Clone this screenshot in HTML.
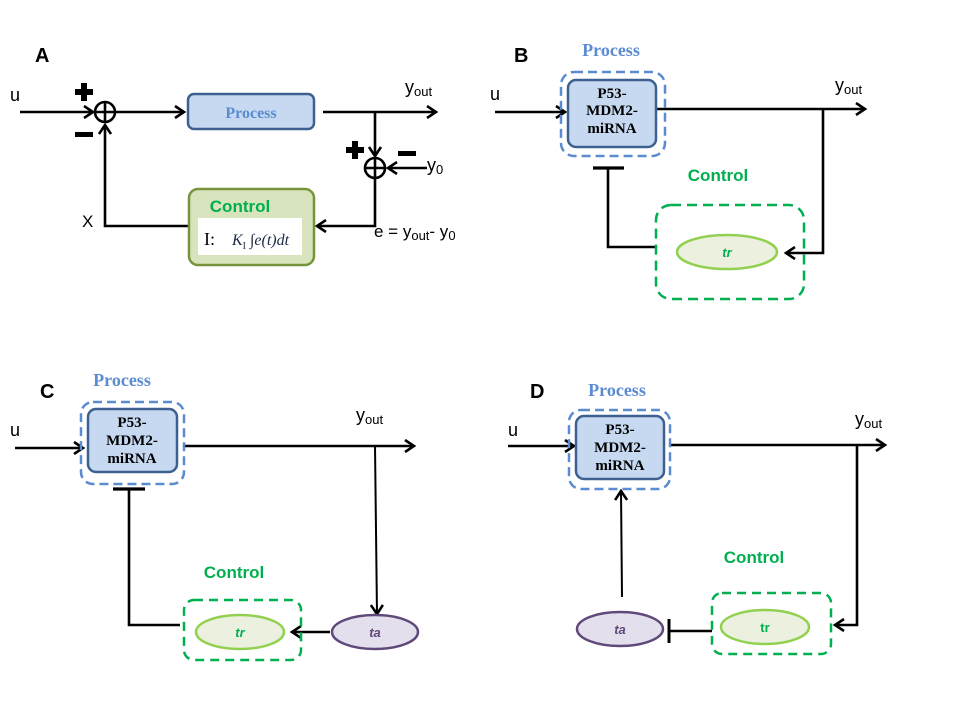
<!DOCTYPE html>
<html><head><meta charset="utf-8"><style>
html,body{margin:0;padding:0;background:#fff;}
svg{display:block;}
.s{font-family:"Liberation Sans",sans-serif;}
.sr{font-family:"Liberation Serif",serif;}
</style></head><body>
<svg width="960" height="720" viewBox="0 0 960 720" xmlns="http://www.w3.org/2000/svg">
<defs>
<marker id="a" markerWidth="14" markerHeight="14" refX="10" refY="7" orient="auto" markerUnits="userSpaceOnUse">
<path d="M1,1 L10,7 L1,13" fill="none" stroke="#000" stroke-width="2.6"/></marker>
</defs>
<g stroke="#000" stroke-width="2.6" fill="none">
<!-- Panel A -->
<line x1="20" y1="112" x2="93" y2="112" marker-end="url(#a)"/>
<circle cx="105" cy="112" r="10"/><line x1="95" y1="112" x2="115" y2="112"/><line x1="105" y1="102" x2="105" y2="122"/>
<line x1="115" y1="112" x2="184" y2="112" marker-end="url(#a)"/>
<line x1="323" y1="112" x2="436" y2="112" marker-end="url(#a)"/>
<line x1="375" y1="112" x2="375" y2="156" marker-end="url(#a)"/>
<circle cx="375" cy="168" r="10"/><line x1="365" y1="168" x2="385" y2="168"/><line x1="375" y1="158" x2="375" y2="178"/>
<line x1="427" y1="168" x2="388" y2="168" marker-end="url(#a)"/>
<polyline points="375,178 375,226 317,226" marker-end="url(#a)"/>
<polyline points="188,226 105,226 105,125" marker-end="url(#a)"/>
<!-- Panel B -->
<line x1="495" y1="112" x2="565" y2="112" marker-end="url(#a)"/>
<line x1="656" y1="109" x2="865" y2="109" marker-end="url(#a)"/>
<polyline points="823,109 823,253 786,253" marker-end="url(#a)"/>
<line x1="593" y1="168" x2="624" y2="168" stroke-width="3.2"/>
<polyline points="608,168 608,247 655,247"/>
<!-- Panel C -->
<line x1="15" y1="448" x2="83" y2="448" marker-end="url(#a)"/>
<line x1="184" y1="446" x2="414" y2="446" marker-end="url(#a)"/>
<line x1="375" y1="446" x2="377" y2="614" marker-end="url(#a)" stroke-width="2"/>
<line x1="330" y1="632" x2="292" y2="632" marker-end="url(#a)"/>
<line x1="113" y1="489" x2="145" y2="489" stroke-width="3.2"/>
<polyline points="129,489 129,625 180,625"/>
<!-- Panel D -->
<line x1="508" y1="446" x2="574" y2="446" marker-end="url(#a)"/>
<line x1="670" y1="445" x2="885" y2="445" marker-end="url(#a)"/>
<polyline points="857,445 857,625 835,625" marker-end="url(#a)"/>
<line x1="622" y1="597" x2="621" y2="491" marker-end="url(#a)" stroke-width="2"/>
<line x1="712" y1="631" x2="670" y2="631"/>
<line x1="669" y1="619" x2="669" y2="643" stroke-width="3"/>
</g>
<g fill="#000">
<rect x="75" y="89" width="18" height="6"/><rect x="81" y="83" width="6" height="18"/>
<rect x="75" y="132" width="18" height="5"/>
<rect x="346" y="147" width="18" height="6"/><rect x="352" y="141" width="6" height="18"/>
<rect x="398" y="151" width="18" height="5"/>
</g>
<rect x="188" y="94" width="126" height="35" rx="6" fill="#c6d9f1" stroke="#3c6090" stroke-width="2.5"/>
<text x="251" y="118" class="sr" font-size="16" font-weight="bold" fill="#5b8bd0" text-anchor="middle">Process</text>
<rect x="189" y="189" width="125" height="76" rx="9" fill="#d7e4bd" stroke="#77933c" stroke-width="2.5"/>
<text x="240" y="212" class="s" font-size="17" font-weight="bold" fill="#00b050" text-anchor="middle">Control</text>
<rect x="198" y="218" width="104" height="37" fill="#fff"/>
<text x="204" y="245" class="sr" font-size="18" fill="#000">I:</text>
<text x="232" y="245" class="sr" font-size="16" font-style="italic" fill="#1f2a44">K<tspan font-size="10" font-style="normal" dy="4">I</tspan><tspan dy="-4"> ∫e(t)dt</tspan></text>
<text x="35" y="62" class="s" font-size="20" font-weight="bold">A</text>
<text x="10" y="101" class="s" font-size="18">u</text>
<text x="405" y="93" class="s" font-size="18">y<tspan font-size="13" dy="3">out</tspan></text>
<text x="427" y="171" class="s" font-size="18">y<tspan font-size="13" dy="3">0</tspan></text>
<text x="82" y="227" class="s" font-size="17">X</text>
<text x="374" y="237" class="s" font-size="17">e = y<tspan font-size="13" dy="3">out</tspan><tspan dy="-3">- y</tspan><tspan font-size="13" dy="3">0</tspan></text>
<!-- Panel B -->
<text x="514" y="62" class="s" font-size="20" font-weight="bold">B</text>
<text x="611" y="56" class="sr" font-size="18" font-weight="bold" fill="#5b8bd0" text-anchor="middle">Process</text>
<text x="490" y="100" class="s" font-size="18">u</text>
<text x="835" y="91" class="s" font-size="18">y<tspan font-size="13" dy="3">out</tspan></text>
<rect x="561" y="72" width="104" height="84" rx="13" fill="none" stroke="#5b8bd0" stroke-width="2.5" stroke-dasharray="9,5"/>
<rect x="568" y="80" width="88" height="67" rx="8" fill="#c6d9f1" stroke="#3c6090" stroke-width="2.5"/>
<g class="sr" font-size="15" font-weight="bold" text-anchor="middle"><text x="612" y="98">P53-</text><text x="612" y="115">MDM2-</text><text x="612" y="133">miRNA</text></g>
<text x="718" y="181" class="s" font-size="17" font-weight="bold" fill="#00b050" text-anchor="middle">Control</text>
<rect x="656" y="205" width="148" height="94" rx="15" fill="none" stroke="#00b050" stroke-width="2.5" stroke-dasharray="10,6"/>
<ellipse cx="727" cy="252" rx="50" ry="17" fill="#ebf1de" stroke="#92d050" stroke-width="2.5"/>
<text x="727" y="257" class="s" font-size="13" font-weight="bold" font-style="italic" fill="#00b050" text-anchor="middle">tr</text>
<!-- Panel C -->
<text x="40" y="398" class="s" font-size="20" font-weight="bold">C</text>
<text x="122" y="386" class="sr" font-size="18" font-weight="bold" fill="#5b8bd0" text-anchor="middle">Process</text>
<text x="10" y="436" class="s" font-size="18">u</text>
<text x="356" y="421" class="s" font-size="18">y<tspan font-size="13" dy="3">out</tspan></text>
<rect x="81" y="402" width="103" height="82" rx="12" fill="none" stroke="#5b8bd0" stroke-width="2.5" stroke-dasharray="9,5"/>
<rect x="88" y="409" width="89" height="63" rx="8" fill="#c6d9f1" stroke="#3c6090" stroke-width="2.5"/>
<g class="sr" font-size="15" font-weight="bold" text-anchor="middle"><text x="132" y="427">P53-</text><text x="132" y="445">MDM2-</text><text x="132" y="463">miRNA</text></g>
<text x="234" y="578" class="s" font-size="17" font-weight="bold" fill="#00b050" text-anchor="middle">Control</text>
<rect x="184" y="600" width="117" height="60" rx="10" fill="none" stroke="#00b050" stroke-width="2.5" stroke-dasharray="9,6"/>
<ellipse cx="240" cy="632" rx="44" ry="17" fill="#ebf1de" stroke="#92d050" stroke-width="2.5"/>
<text x="240" y="637" class="s" font-size="13" font-weight="bold" font-style="italic" fill="#00b050" text-anchor="middle">tr</text>
<ellipse cx="375" cy="632" rx="43" ry="17" fill="#e4dfec" stroke="#5f497a" stroke-width="2.5"/>
<text x="375" y="637" class="s" font-size="13" font-weight="bold" font-style="italic" fill="#5f497a" text-anchor="middle">ta</text>
<!-- Panel D -->
<text x="530" y="398" class="s" font-size="20" font-weight="bold">D</text>
<text x="617" y="396" class="sr" font-size="18" font-weight="bold" fill="#5b8bd0" text-anchor="middle">Process</text>
<text x="508" y="436" class="s" font-size="18">u</text>
<text x="855" y="425" class="s" font-size="18">y<tspan font-size="13" dy="3">out</tspan></text>
<rect x="569" y="410" width="101" height="79" rx="12" fill="none" stroke="#5b8bd0" stroke-width="2.5" stroke-dasharray="9,5"/>
<rect x="576" y="416" width="88" height="63" rx="8" fill="#c6d9f1" stroke="#3c6090" stroke-width="2.5"/>
<g class="sr" font-size="15" font-weight="bold" text-anchor="middle"><text x="620" y="434">P53-</text><text x="620" y="452">MDM2-</text><text x="620" y="470">miRNA</text></g>
<text x="754" y="563" class="s" font-size="17" font-weight="bold" fill="#00b050" text-anchor="middle">Control</text>
<rect x="712" y="593" width="119" height="61" rx="10" fill="none" stroke="#00b050" stroke-width="2.5" stroke-dasharray="9,6"/>
<ellipse cx="765" cy="627" rx="44" ry="17" fill="#ebf1de" stroke="#92d050" stroke-width="2.5"/>
<text x="765" y="632" class="s" font-size="13" font-weight="bold" fill="#00b050" text-anchor="middle">tr</text>
<ellipse cx="620" cy="629" rx="43" ry="17" fill="#e4dfec" stroke="#5f497a" stroke-width="2.5"/>
<text x="620" y="634" class="s" font-size="13" font-weight="bold" font-style="italic" fill="#5f497a" text-anchor="middle">ta</text>
</svg>
</body></html>
